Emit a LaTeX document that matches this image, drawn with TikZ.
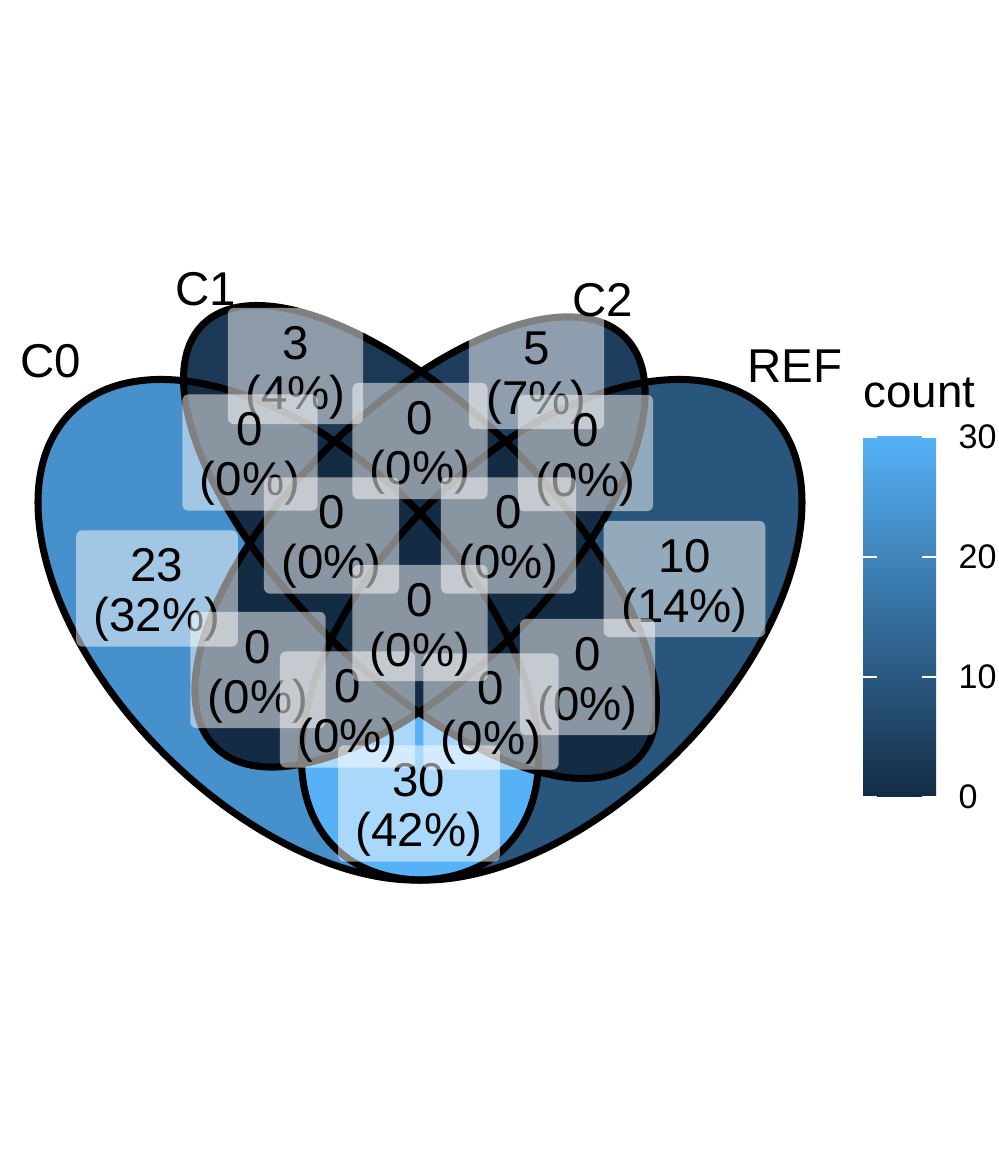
\documentclass[tikz,border=0pt]{standalone}
\usepackage{fontspec}
\setmainfont{Liberation Sans}
\usepackage{tikz}
\usetikzlibrary{calc}
\usetikzlibrary{positioning}

\definecolor{jml0}{HTML}{132B43}
\definecolor{jml3}{HTML}{1B3854}
\definecolor{jml5}{HTML}{1F3E5D}
\definecolor{jml10}{HTML}{28567C}
\definecolor{jml15}{HTML}{336A98}
\definecolor{jml23}{HTML}{4690CB}
\definecolor{jml30}{HTML}{56B1F7}

\newcommand{\angka}[2]{\rule{0pt}{0.465cm}#1\\(#2\%)}

\begin{document}
\begin{tikzpicture}[
	elC0/.style={rotate around={135:(0.35,0.47)}},
	elC1/.style={rotate around={135:(0.50,0.57)}},
	elC2/.style={rotate around={45:(0.50,0.57)}},
	elREF/.style={rotate around={45:(0.65,0.47)}},
	garis/.style={line width=2pt, black},
	kotak/.style={fill=white, fill opacity=0.5, text opacity=1, rounded corners=0.06cm,
		inner xsep=0.175cm, inner ysep=0.05cm, align=center, font=\fontsize{13.5}{14.2}\selectfont},
	nama/.style={inner sep=0pt, font=\fontsize{13.5}{14.2}\selectfont}
	]
				% Latar belakang dan ukuran gambar
				\fill[white] (0,0) rectangle (9.99,11.71);
				\useasboundingbox (0,0) rectangle (9.99,11.71);
				
				%% DIAGRAM VENN (EMPAT ELIPS) %%
				\begin{scope}[shift={(-0.19cm,1.2857cm)}, x=8.78cm, y=8.78cm]
				% Isi elips luar C0 dan REF
				\fill[jml23, elC0] (0.35,0.47) ellipse [x radius=0.35, y radius=0.20];
				\fill[jml10, elREF] (0.65,0.47) ellipse [x radius=0.35, y radius=0.20];
				
				% Irisan C0 dengan REF
				\begin{scope}
					\clip[elC0] (0.35,0.47) ellipse [x radius=0.35, y radius=0.20];
					\fill[jml30, elREF] (0.65,0.47) ellipse [x radius=0.35, y radius=0.20];
				\end{scope}
				
				% Isi elips dalam C1 dan C2
				\fill[jml3, elC1] (0.50,0.57) ellipse [x radius=0.35, y radius=0.15];
				\fill[jml5, elC2] (0.50,0.57) ellipse [x radius=0.33, y radius=0.15];
				
				% Irisan lain bernilai 0
				\begin{scope}
					\clip[elC1] (0.50,0.57) ellipse [x radius=0.35, y radius=0.15];
					\fill[jml0, elC2] (0.50,0.57) ellipse [x radius=0.33, y radius=0.15];
					\fill[jml0, elC0] (0.35,0.47) ellipse [x radius=0.35, y radius=0.20];
					\fill[jml0, elREF] (0.65,0.47) ellipse [x radius=0.35, y radius=0.20];
				\end{scope}
				\begin{scope}
					\clip[elC2] (0.50,0.57) ellipse [x radius=0.33, y radius=0.15];
					\fill[jml0, elC0] (0.35,0.47) ellipse [x radius=0.35, y radius=0.20];
					\fill[jml0, elREF] (0.65,0.47) ellipse [x radius=0.35, y radius=0.20];
				\end{scope}
				
				% Garis tepi keempat elips
				\draw[garis, elC0] (0.35,0.47) ellipse [x radius=0.35, y radius=0.20];
				\draw[garis, elC1] (0.50,0.57) ellipse [x radius=0.35, y radius=0.15];
				\draw[garis, elC2] (0.50,0.57) ellipse [x radius=0.33, y radius=0.15];
				\draw[garis, elREF] (0.65,0.47) ellipse [x radius=0.35, y radius=0.20];
				\end{scope}
				
				% Label tiap daerah
				\node[kotak] (lC0) at (1.57,5.825) {\angka{23}{32}};
				\node[kotak] (lC1) at (2.955,8.05) {\angka{3}{4}};
				\node[kotak] (lC2) at (5.365,8.00) {\angka{5}{7}};
				\node[kotak] (lREF) at (6.845,5.92) {\angka{10}{14}};
				\node[kotak] (lC0C1) at (2.50,7.185) {\angka{0}{0}};
				\node[kotak] (lC0C2) at (2.58,5.01) {\angka{0}{0}};
				\node[kotak] (lC0REF) at (4.19,3.675) {\angka{30}{42}};
				\node[kotak] (lC1C2) at (4.20,7.30) {\angka{0}{0}};
				\node[kotak] (lC1REF) at (5.875,4.94) {\angka{0}{0}};
				\node[kotak] (lC2REF) at (5.855,7.18) {\angka{0}{0}};
				\node[kotak] (lC0C1C2) at (3.315,6.355) {\angka{0}{0}};
				\node[kotak] (lC0C1REF) at (4.91,4.595) {\angka{0}{0}};
				\node[kotak] (lC0C2REF) at (3.475,4.615) {\angka{0}{0}};
				\node[kotak] (lC1C2REF) at (5.085,6.355) {\angka{0}{0}};
				\node[kotak] (lsemua) at (4.20,5.48) {\angka{0}{0}};
				
				% Nama himpunan
				\node[nama] (tC0) at (0.51,8.10) {C0};
				\node[nama] (tC1) at (2.06,8.815) {C1};
				\node[nama] (tC2) at (6.03,8.71) {C2};
				\node[nama] (tREF) at (7.95,8.05) {REF};
				%% AKHIR DIAGRAM VENN %%
				
				%% LEGENDA %%
				\node[nama, font=\fontsize{13}{14}\selectfont, anchor=base west] (judul) at (8.63,7.63) {count};
				\node[inner sep=0pt, outer sep=0pt, minimum width=0.73cm, minimum height=3.6cm, anchor=south west,
					top color=jml30, middle color=jml15, bottom color=jml0] (bar) at (8.63,3.74) {};
				\foreach \v in {0,10,20,30}{
					\draw[white, line width=0.6pt] ($(bar.south west)+(0,0.12*\v)$) -- ++(0.14,0);
					\draw[white, line width=0.6pt] ($(bar.south east)+(0,0.12*\v)$) -- ++(-0.14,0);
					\node[inner sep=0pt, anchor=west, font=\fontsize{9.7}{11}\selectfont] (n\v) at ($(bar.south east)+(0.22,0.12*\v)$) {\v};
				}
				%% AKHIR LEGENDA %%
			\end{tikzpicture}
\end{document}
